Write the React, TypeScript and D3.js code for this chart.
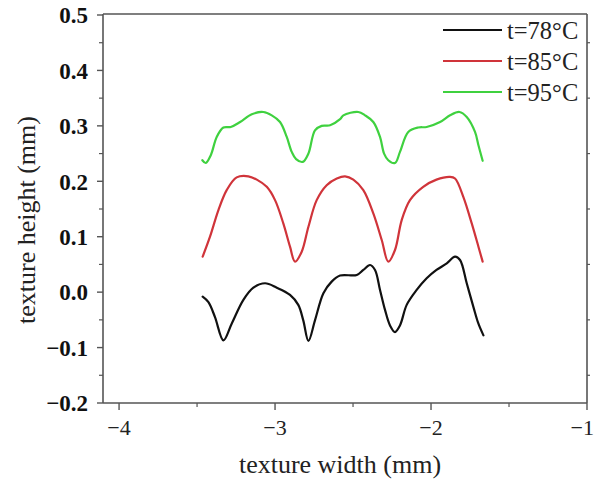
import React from "react";
import * as d3 from "d3";

const xTicks = [-4, -3, -2, -1];
const xTickLabels = ["−4", "−3", "−2", "−1"];
const xMinorTicks = [-3.5, -2.5, -1.5];
const yTicks = [0.5, 0.4, 0.3, 0.2, 0.1, 0.0, -0.1, -0.2];
const yTickLabels = ["0.5", "0.4", "0.3", "0.2", "0.1", "0.0", "−0.1", "−0.2"];
const yMinorTicks = [0.45, 0.35, 0.25, 0.15, 0.05, -0.05, -0.15];

const seriesNames = ["t=78°C", "t=85°C", "t=95°C"];
const seriesColors = ["#111111", "#d0343a", "#3fd13f"];

const blackX = [-3.464, -3.427, -3.385, -3.331, -3.278, -3.203, -3.139, -3.064, -2.989, -2.904, -2.851, -2.819, -2.786, -2.744, -2.69, -2.637, -2.583, -2.476, -2.434, -2.391, -2.359, -2.327, -2.295, -2.263, -2.231, -2.199, -2.156, -2.092, -2.028, -1.965, -1.899, -1.846, -1.814, -1.771, -1.728, -1.696, -1.664];
const blackY = [-0.008, -0.018, -0.045, -0.087, -0.057, -0.014, 0.008, 0.016, 0.008, -0.005, -0.023, -0.051, -0.088, -0.051, -0.002, 0.019, 0.03, 0.031, 0.04, 0.049, 0.04, 0.004, -0.032, -0.06, -0.072, -0.06, -0.023, 0.004, 0.025, 0.04, 0.052, 0.064, 0.058, 0.016, -0.027, -0.057, -0.078];

const redX = [-3.464, -3.417, -3.363, -3.31, -3.246, -3.171, -3.117, -3.053, -3.0, -2.947, -2.904, -2.872, -2.829, -2.786, -2.733, -2.669, -2.604, -2.551, -2.498, -2.434, -2.37, -2.316, -2.274, -2.231, -2.188, -2.135, -2.05, -1.965, -1.878, -1.846, -1.793, -1.739, -1.696, -1.669];
const redY = [0.064, 0.1, 0.148, 0.184, 0.207, 0.209, 0.203, 0.19, 0.166, 0.124, 0.082, 0.055, 0.073, 0.118, 0.166, 0.193, 0.205, 0.209, 0.203, 0.184, 0.142, 0.094, 0.055, 0.076, 0.13, 0.166, 0.19, 0.203, 0.208, 0.205, 0.172, 0.124, 0.082, 0.055];

const greenX = [-3.466, -3.444, -3.412, -3.374, -3.331, -3.284, -3.224, -3.149, -3.075, -3.021, -2.968, -2.925, -2.893, -2.865, -2.822, -2.786, -2.744, -2.701, -2.647, -2.583, -2.562, -2.466, -2.423, -2.37, -2.327, -2.301, -2.274, -2.231, -2.199, -2.146, -2.082, -2.028, -1.942, -1.878, -1.818, -1.771, -1.718, -1.696, -1.669];
const greenY = [0.238, 0.233, 0.247, 0.28, 0.297, 0.298, 0.307, 0.321, 0.325, 0.319, 0.307, 0.28, 0.253, 0.24, 0.235, 0.25, 0.292, 0.3, 0.301, 0.312, 0.319, 0.325, 0.319, 0.307, 0.28, 0.25, 0.238, 0.233, 0.253, 0.289, 0.297, 0.298, 0.307, 0.319, 0.325, 0.316, 0.289, 0.265, 0.237];

const seriesX = [blackX, redX, greenX];
const seriesY = [blackY, redY, greenY];

const W = 595;
const H = 480;
const left = 103, right = 587, top = 14, bottom = 403;

export default function App() {
  const x = d3.scaleLinear().domain([-4.103, -1]).range([left, right]);
  const y = d3.scaleLinear().domain([-0.2, 0.5]).range([bottom, top + 1]);
  const line = d3
    .line<[number, number]>()
    .x((d) => x(d[0]))
    .y((d) => y(d[1]))
    .curve(d3.curveCatmullRom.alpha(0.5));
  const axisColor = "#555";
  const serif = "Liberation Serif, serif";

  return (
    <svg
      width={W}
      height={H}
      style={{ position: "absolute", left: 0, top: 0, background: "#fff" }}
    >
      <rect x={0} y={0} width={W} height={H} fill="#fff" />
      {seriesX.map((xs, i) => (
        <path
          key={i}
          d={line(xs.map((v, j) => [v, seriesY[i][j]] as [number, number])) || ""}
          fill="none"
          stroke={seriesColors[i]}
          strokeWidth={2.2}
          strokeLinejoin="round"
          strokeLinecap="round"
        />
      ))}
      <line x1={left} x2={right} y1={top} y2={top} stroke={axisColor} strokeWidth={1.6} />
      <line x1={right} x2={right} y1={top} y2={bottom} stroke={axisColor} strokeWidth={1.6} />
      <line x1={left} x2={left} y1={top} y2={bottom} stroke={axisColor} strokeWidth={1.6} />
      <line x1={left} x2={right} y1={bottom} y2={bottom} stroke={axisColor} strokeWidth={1.6} />
      {yTicks.map((t, i) => (
        <g key={"yt" + i}>
          <line x1={left - 6} x2={left} y1={y(t)} y2={y(t)} stroke={axisColor} strokeWidth={1.4} />
          <text
            x={88}
            y={y(t)}
            dy="0.36em"
            textAnchor="end"
            fontFamily={serif}
            fontWeight="bold"
            fontSize={23}
            fill="#111"
          >
            {yTickLabels[i]}
          </text>
        </g>
      ))}
      {yMinorTicks.map((t, i) => (
        <g key={"ym" + i}>
          <line x1={left - 4} x2={left} y1={y(t)} y2={y(t)} stroke={axisColor} strokeWidth={1.2} />
          <line x1={right} x2={right + 3} y1={y(t)} y2={y(t)} stroke={axisColor} strokeWidth={1.2} />
        </g>
      ))}
      {xTicks.map((t, i) => {
        const last = i === xTicks.length - 1;
        return (
          <g key={"xt" + i}>
            <line x1={x(t)} x2={x(t)} y1={bottom} y2={bottom + 7} stroke={axisColor} strokeWidth={1.4} />
            <text
              x={last ? W - 1 : x(t)}
              y={435}
              textAnchor={last ? "end" : "middle"}
              fontFamily={serif}
              fontSize={22}
              fill="#222"
            >
              {xTickLabels[i]}
            </text>
          </g>
        );
      })}
      {xMinorTicks.map((t, i) => (
        <line key={"xm" + i} x1={x(t)} x2={x(t)} y1={bottom} y2={bottom + 4} stroke={axisColor} strokeWidth={1.2} />
      ))}
      <text x={340} y={473} textAnchor="middle" fontFamily={serif} fontSize={26} fill="#222">
        texture width (mm)
      </text>
      <text
        transform="translate(35,220) rotate(-90)"
        textAnchor="middle"
        fontFamily={serif}
        fontSize={26}
        fill="#222"
      >
        texture height (mm)
      </text>
      {seriesNames.map((n, i) => {
        const ly = 30 + i * 31;
        return (
          <g key={"lg" + i}>
            <line x1={443} x2={502} y1={ly} y2={ly} stroke={seriesColors[i]} strokeWidth={2.2} />
            <text
              x={507}
              y={ly}
              dy="0.35em"
              fontFamily={serif}
              fontSize={24.5}
              fill="#222"
            >
              {n}
            </text>
          </g>
        );
      })}
    </svg>
  );
}
